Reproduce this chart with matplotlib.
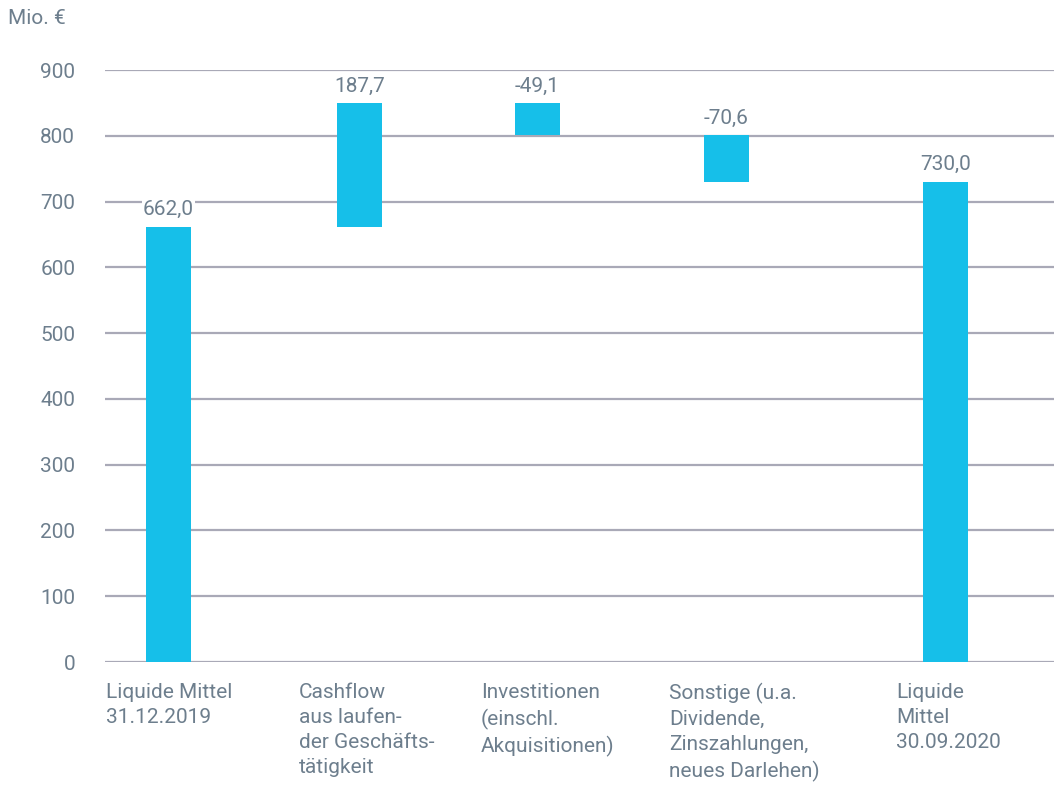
import matplotlib
matplotlib.use("Agg")
import matplotlib.pyplot as plt
import numpy as np

# ---- data ----
categories = [
    "Liquide Mittel\n31.12.2019",
    "Cashflow\naus laufen-\nder Geschäfts-\ntätigkeit",
    "Investitionen\n(einschl.\nAkquisitionen)",
    "Sonstige (u.a.\nDividende,\nZinszahlungen,\nneues Darlehen)",
    "Liquide\nMittel\n30.09.2020",
]
values = [662.0, 187.7, -49.1, -70.6, 730.0]
is_total = [True, False, False, False, True]
value_labels = ["662,0", "187,7", "-49,1", "-70,6", "730,0"]
yticks = [0, 100, 200, 300, 400, 500, 600, 700, 800, 900]
unit_label = "Mio. €"

# ---- layout ----
xpos = [0.0, 0.983, 1.900, 2.873, 4.0]
label_x = [-0.322, 0.672, 1.609, 2.577, 3.745]
bar_w = 0.232
bar_color = "#16bfe9"
text_color = "#6d7e8d"
grid_color = "#a9a9b7"
fam = ["Roboto", "DejaVu Sans"]
fw = "normal"
fs = 15

W, H = 1054, 787
fig = plt.figure(figsize=(W / 100, H / 100), dpi=100)
ax = fig.add_axes([105 / W, (H - 662) / H, (W - 105) / W, (662 - 70) / H])

# compute waterfall bottoms/heights
bottoms, heights = [], []
running = 0.0
for v, tot in zip(values, is_total):
    if tot:
        bottoms.append(0.0)
        heights.append(v)
        running = v
    else:
        start = running
        running = running + v
        bottoms.append(min(start, running))
        heights.append(abs(v))

ax.bar(xpos, heights, bottom=bottoms, width=bar_w, color=bar_color, zorder=3)

for x, b, h, lab in zip(xpos, bottoms, heights, value_labels):
    ax.annotate(lab, (x, b + h), xytext=(0, 5.5), textcoords="offset points",
                ha="center", va="bottom", fontsize=fs, color=text_color,
                family=fam, fontweight=fw, zorder=4,
                bbox=dict(facecolor="white", edgecolor="none", pad=0.5))

ax.set_xlim(-0.327, 4.559)
ax.set_ylim(0, 900)
ax.set_yticks(yticks)
ax.set_yticklabels([str(t) for t in yticks], fontsize=fs, color=text_color,
                   family=fam, fontweight=fw)
ax.tick_params(axis="y", length=0, pad=21.5)
ax.set_xticks([])
for s in ax.spines.values():
    s.set_visible(False)
ax.yaxis.grid(True, color=grid_color, linewidth=1.6, zorder=0)
ax.set_axisbelow(True)

for lx, cat in zip(label_x, categories):
    ax.text(lx, -0.035, cat, transform=ax.get_xaxis_transform(), ha="left", va="top",
            fontsize=fs, color=text_color, family=fam, fontweight=fw, linespacing=1.41)

fig.text(8 / W, 1 - 18 / H, unit_label, ha="left", va="center", fontsize=fs,
         color=text_color, family=fam, fontweight=fw)

fig.savefig("out.png", dpi=100)
